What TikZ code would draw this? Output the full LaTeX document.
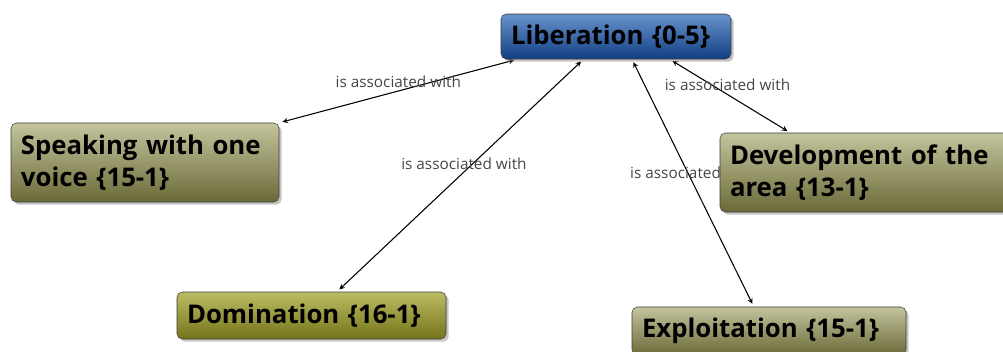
\documentclass[tikz,border=0pt]{standalone}
\usepackage{fontspec}
\setmainfont{Open Sans}
\usetikzlibrary{shadows}

\definecolor{libtop}{RGB}{104,146,204}
\definecolor{libbot}{RGB}{18,64,132}
\definecolor{olvtop}{RGB}{196,196,158}
\definecolor{olvbot}{RGB}{106,106,56}
\definecolor{domtop}{RGB}{188,188,100}
\definecolor{dombot}{RGB}{116,116,26}
\definecolor{rimgray}{RGB}{60,60,60}
\definecolor{lblgray}{RGB}{70,70,70}

\pgfdeclarelayer{links}
\pgfsetlayers{links,main}

\tikzset{
  concept/.style={draw=rimgray, rounded corners=4pt, align=left,
    font=\bfseries\fontsize{19.3}{24}\selectfont,
    inner xsep=7.5pt, inner ysep=0pt, text width=#1,
    drop shadow={opacity=0.45, shadow xshift=2pt, shadow yshift=-2pt}},
  blueish/.style={top color=libtop, bottom color=libbot},
  olive/.style={top color=olvtop, bottom color=olvbot},
  mustard/.style={top color=domtop, bottom color=dombot},
  assoc/.style={<->, >=stealth, line width=0.8pt,
    shorten <=2.5pt, shorten >=2.5pt},
  lbl/.style={font=\fontsize{11.5}{13}\selectfont, text=lblgray}
}

\begin{document}
\begin{tikzpicture}[x=0.75pt, y=-0.75pt]
\useasboundingbox (0,0) rectangle (1003,351);

% concepts
\node[concept=157.5pt, blueish, minimum height=33.75pt] (lib) at (616,36.5) {Liberation \{0-5\}};
\node[concept=186pt, olive, minimum height=59.25pt] (voice) at (145,162.5) {Speaking with one\\voice \{15-1\}};
\node[concept=202.5pt, olive, minimum height=59.25pt] (develop) at (865,172.5) {Development of the\\area \{13-1\}};
\node[concept=186.75pt, mustard, minimum height=35.25pt] (domin) at (311.5,315.5) {Domination \{16-1\}};
\node[concept=190.5pt, olive, minimum height=36pt] (exploit) at (769,331) {Exploitation \{15-1\}};

% links
\begin{pgfonlayer}{links}
\draw[assoc] (lib.193) -- (voice.north east) node[lbl, pos=0.5, yshift=6.75pt] {is associated with};
\draw[assoc] (lib.215) -- (domin.43) node[lbl, pos=0.485, yshift=6pt] {is associated with};
\draw[assoc] (lib.-55) -- (exploit.122) node[lbl, pos=0.5, yshift=7.5pt] {is associated with};
\draw[assoc] (lib.-23) -- (develop.152) node[lbl, pos=0.48, yshift=7pt] {is associated with};
\end{pgfonlayer}
\end{tikzpicture}
\end{document}
